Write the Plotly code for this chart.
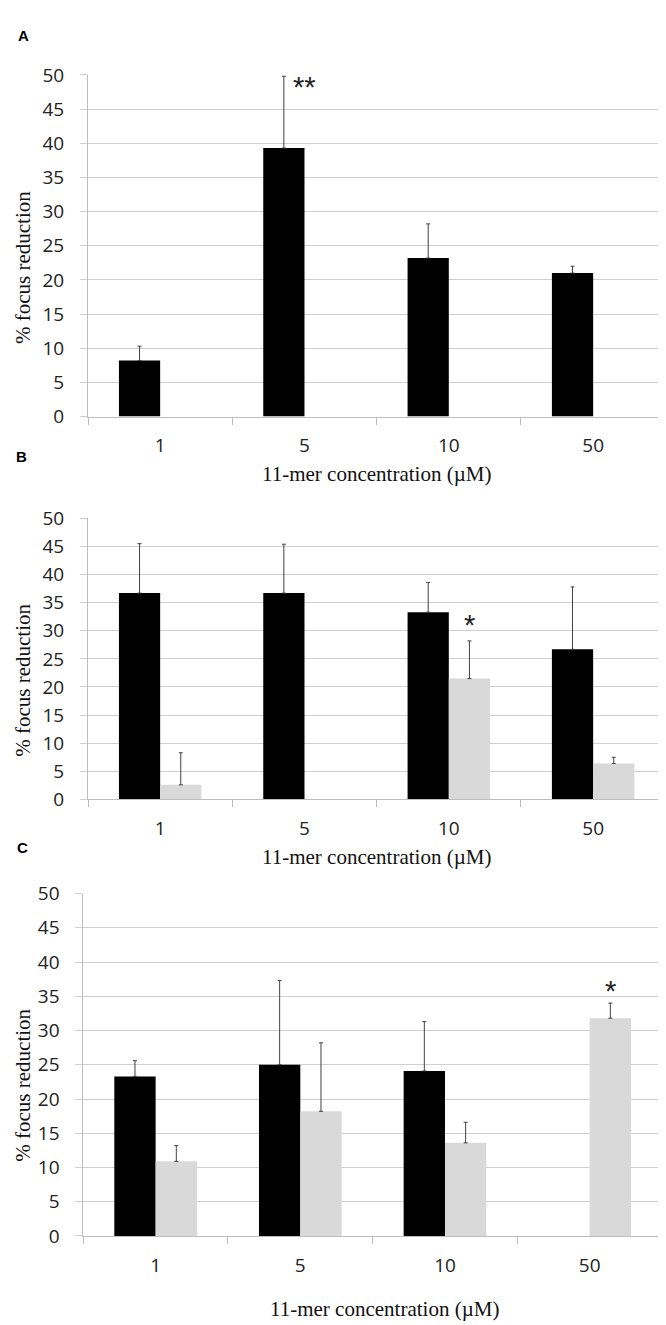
import plotly.graph_objects as go

categories = ["1", "5", "10", "50"]

# Panel A
a_black = [8.2, 39.3, 23.2, 21.0]
a_black_err = [2.1, 10.5, 5.0, 1.0]
a_gray = [None, None, None, None]
a_gray_err = [None, None, None, None]

# Panel B
b_black = [36.7, 36.7, 33.3, 26.7]
b_black_err = [8.8, 8.7, 5.3, 11.1]
b_gray = [2.6, None, 21.5, 6.4]
b_gray_err = [5.7, None, 6.7, 1.1]

# Panel C
c_black = [23.3, 25.0, 24.1, None]
c_black_err = [2.3, 12.3, 7.2, None]
c_gray = [10.9, 18.2, 13.6, 31.8]
c_gray_err = [2.3, 10.0, 3.0, 2.2]

# significance marks: (category, y, text)
a_marks = [("5", 48.3, "**")]
b_marks = [("10", 31.0, "*")]
c_marks = [("50", 35.8, "*")]

yticks = [0, 5, 10, 15, 20, 25, 30, 35, 40, 45, 50]
x_title = "11-mer concentration (µM)"
y_title = "% focus reduction"

W, H = 666, 1325
BLACK = "#000000"
GRAY = "#d9d9d9"
ERR = "#404040"
GRID = "#cfcfcf"
AXIS = "#bdbdbd"
TICKFONT = dict(family="Open Sans", size=19, color="#222222")
SERIF = dict(family="Liberation Serif", size=21, color="#111111")

panels = [
    dict(black=a_black, berr=a_black_err, gray=a_gray, gerr=a_gray_err, marks=a_marks,
         x0=80, x1=657.3, ytop=55, ybot=403.5, label="A", lab=(15, 15),
         xt=(368.5, 462), yt=(15, 252), mshift=0),
    dict(black=b_black, berr=b_black_err, gray=b_gray, gerr=b_gray_err, marks=b_marks,
         x0=80, x1=657.3, ytop=507.3, ybot=794, label="B", lab=(13.5, 444),
         xt=(368.5, 853), yt=(15, 673), mshift=0.1428),
    dict(black=c_black, berr=c_black_err, gray=c_gray, gerr=c_gray_err, marks=c_marks,
         x0=75.3, x1=654, ytop=890, ybot=1239.3, label="C", lab=(14, 843),
         xt=(376, 1314), yt=(15, 1086), mshift=0.1428),
]

fig = go.Figure()
annotations = []
for i, p in enumerate(panels, start=1):
    sfx = "" if i == 1 else str(i)
    xa, ya = "x" + sfx, "y" + sfx
    for vals, errs, col in ((p["black"], p["berr"], BLACK), (p["gray"], p["gerr"], GRAY)):
        fig.add_trace(go.Bar(
            x=categories, y=vals, marker=dict(color=col, line=dict(width=0)),
            error_y=dict(type="data", array=errs, arrayminus=[0] * len(errs), symmetric=False,
                         color=ERR, thickness=1, width=2),
            xaxis=xa, yaxis=ya, showlegend=False))
    fig.layout["xaxis" + sfx] = dict(
        domain=[p["x0"] / W, p["x1"] / W], anchor=ya, type="category",
        categoryorder="array", categoryarray=categories, range=[-0.5, 3.5],
        showgrid=False, showline=True, linecolor=AXIS, linewidth=1,
        ticks="outside", tickson="boundaries", ticklen=7, tickcolor=AXIS,
        tickfont=TICKFONT, ticklabelstandoff=12, fixedrange=True)
    fig.layout["yaxis" + sfx] = dict(
        domain=[1 - p["ybot"] / H, 1 - p["ytop"] / H], anchor=xa,
        range=[0, 50], tickvals=yticks, showgrid=True, gridcolor=GRID, gridwidth=1,
        showline=True, linecolor=AXIS, linewidth=1, zeroline=False,
        ticks="outside", ticklen=7, tickcolor=GRID, tickfont=TICKFONT,
        ticklabelstandoff=12, fixedrange=True)
    for cat, yv, txt in p["marks"]:
        annotations.append(dict(x=categories.index(cat) + p["mshift"], y=yv, xref=xa, yref=ya,
                                text=txt, showarrow=False,
                                font=dict(family="Liberation Sans", size=29, color="#222222"),
                                xanchor="center", yanchor="middle"))
    annotations.append(dict(x=p["lab"][0] / W, y=1 - p["lab"][1] / H, xref="paper", yref="paper",
                            text="<b>%s</b>" % p["label"], showarrow=False,
                            font=dict(family="Liberation Sans", size=15, color="#000000"),
                            xanchor="center", yanchor="middle"))
    annotations.append(dict(x=p["xt"][0] / W, y=1 - p["xt"][1] / H, xref="paper", yref="paper",
                            text=x_title, showarrow=False, font=SERIF,
                            xanchor="center", yanchor="middle"))
    annotations.append(dict(x=p["yt"][0] / W, y=1 - p["yt"][1] / H, xref="paper", yref="paper",
                            text=y_title, showarrow=False, font=SERIF, textangle=-90,
                            xanchor="center", yanchor="middle"))

fig.update_layout(
    width=W, height=H, autosize=False,
    margin=dict(l=0, r=0, t=0, b=0),
    paper_bgcolor="white", plot_bgcolor="white",
    barmode="group", bargap=0.4286, bargroupgap=0,
    annotations=annotations,
)

fig.write_html("out.html")
